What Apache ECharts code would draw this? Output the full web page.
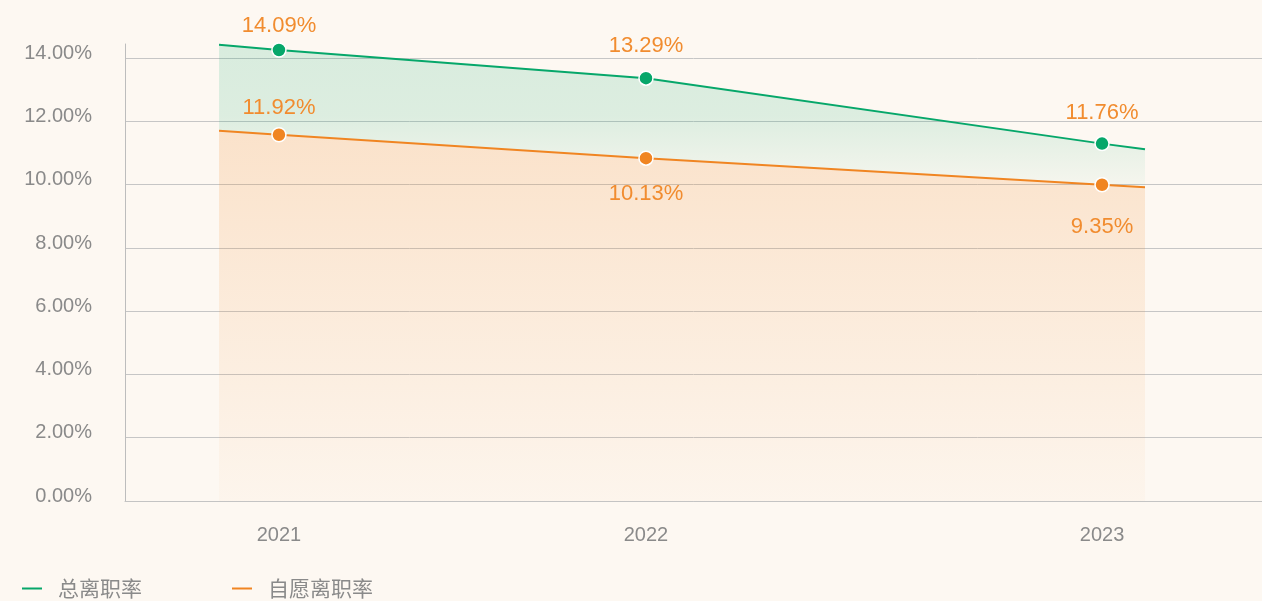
<!DOCTYPE html>
<html>
<head>
<meta charset="utf-8">
<title>离职率</title>
<script src="https://cdn.jsdelivr.net/npm/echarts@6/dist/echarts.min.js"></script>
<style>
	html, body { margin: 0; padding: 0; background: #fdf8f2; }
	#chart { width: 1262px; height: 601px; }
</style>
</head>
<body>
<div id="chart"></div>
<script>
// 年份及其在横轴上的位置(横轴 0-100)
var years = ['2021', '2022', '2023'];
var yearPos = [13.54, 45.82, 85.93];
var edgePos = [8.27, 89.71];

// 总离职率: 折线点位 / 两端延伸 / 标注数值
var totalLine = [14.26, 13.37, 11.30];
var totalEdge = [14.43, 11.12];
var totalRate = [14.09, 13.29, 11.76];

// 自愿离职率
var voluntaryLine = [11.58, 10.84, 10.00];
var voluntaryEdge = [11.71, 9.92];
var voluntaryRate = [11.92, 10.13, 9.35];

var GREEN = '#06a76a';
var ORANGE = '#f08522';
var LABEL = '#f18c2f';
var GREY = '#8a8a8a';

// 标签位置(样式)
var totalLabelPos = [['top', 5], ['top', 13], ['top', 12]];
var voluntaryLabelPos = [['top', 8], ['bottom', 17], ['bottom', 23]];

// 数据项为 [y, x],配合 encode 让堆叠落在纵轴上
// base: 堆叠在其下的折线(总离职率的面积只填到自愿离职率为止)
function buildData(line, edge, rate, labelPos, base, baseEdge) {
	var off = function (arr, k) { return arr ? arr[k] : 0; };
	var data = [{ value: [edge[0] - off(baseEdge, 0), edgePos[0]], symbol: 'none', label: { show: false } }];
	line.map(function (v, k) {
		data.push({
			value: [v - off(base, k), yearPos[k]],
			rate: rate[k],
			label: { position: labelPos[k][0], distance: labelPos[k][1] }
		});
	});
	data.push({ value: [edge[1] - off(baseEdge, 1), edgePos[1]], symbol: 'none', label: { show: false } });
	return data;
}

function fade(color, stops) {
	return new echarts.graphic.LinearGradient(0, 0, 0, 1, stops.map(function (s) {
		return { offset: s[0], color: color.replace('A', s[1]) };
	}));
}

var labelOpt = {
	show: true,
	color: LABEL,
	fontSize: 22,
	fontFamily: 'Liberation Sans, Arial, sans-serif',
	formatter: function (p) {
		return p.data.rate.toFixed(2) + '%';
	}
};

var myChart = echarts.init(document.getElementById('chart'));

var option = {
	backgroundColor: '#fdf8f2',
	animation: false,
	grid: { left: 125, right: 0, top: 44, bottom: 100, outerBoundsMode: 'none' },
	legend: {
		left: 22,
		top: 578,
		padding: 0,
		icon: 'rect',
		itemWidth: 20,
		itemHeight: 2,
		itemGap: 90,
		itemStyle: { borderWidth: 0 },
		textStyle: {
			color: GREY,
			fontSize: 21,
			fontFamily: 'Noto Sans CJK SC',
			padding: [0, 0, 0, 11]
		},
		data: ['总离职率', '自愿离职率']
	},
	xAxis: {
		type: 'value',
		min: 0,
		max: 100,
		axisLine: { show: true, lineStyle: { color: '#c4c4c4' } },
		axisTick: { show: false },
		splitLine: { show: false },
		axisLabel: {
			customValues: yearPos,
			margin: 24,
			color: GREY,
			fontSize: 20,
			fontFamily: 'Liberation Sans, Arial, sans-serif',
			formatter: function (v) {
				var i = yearPos.indexOf(v);
				return i >= 0 ? years[i] : '';
			}
		}
	},
	yAxis: {
		type: 'value',
		min: 0,
		max: 14.45,
		interval: 2,
		axisLine: { show: true, lineStyle: { color: '#bdbdbd' } },
		axisTick: { show: false },
		splitLine: { show: true, showMaxLine: false, lineStyle: { color: '#c6c6c6' } },
		axisLabel: {
			showMaxLabel: false,
			margin: 33,
			color: GREY,
			fontSize: 20,
			fontFamily: 'Liberation Sans, Arial, sans-serif',
			verticalAlign: 'bottom',
			lineHeight: 10,
			formatter: function (v) {
				return v.toFixed(2) + '%';
			}
		}
	},
	series: [{
		name: '自愿离职率',
		type: 'line',
		stack: 'rate',
		encode: { x: 1, y: 0 },
		data: buildData(voluntaryLine, voluntaryEdge, voluntaryRate, voluntaryLabelPos),
		symbol: 'circle',
		symbolSize: 14,
		itemStyle: { color: ORANGE, borderColor: '#ffffff', borderWidth: 1.5 },
		lineStyle: { color: ORANGE, width: 2 },
		areaStyle: {
			color: fade('rgba(240,133,34,A)', [[0, 0.27], [1, 0.04]])
		},
		label: labelOpt,
		z: 3
	}, {
		name: '总离职率',
		type: 'line',
		stack: 'rate',
		encode: { x: 1, y: 0 },
		data: buildData(totalLine, totalEdge, totalRate, totalLabelPos, voluntaryLine, voluntaryEdge),
		symbol: 'circle',
		symbolSize: 14,
		itemStyle: { color: GREEN, borderColor: '#ffffff', borderWidth: 1.5 },
		lineStyle: { color: GREEN, width: 2 },
		areaStyle: {
			color: fade('rgba(6,167,106,A)', [[0, 0.21], [0.5, 0.19], [1, 0.04]])
		},
		label: labelOpt,
		z: 3
	}]
};

myChart.setOption(option);
window.onresize = myChart.resize;
</script>
</body>
</html>
